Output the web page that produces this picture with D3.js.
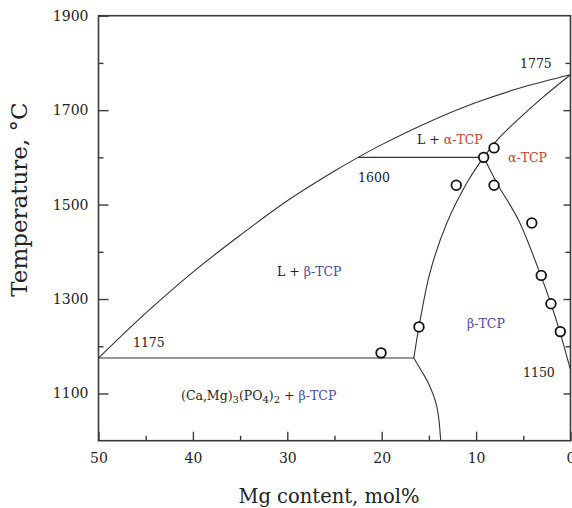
<!DOCTYPE html>
<html>
<head>
<meta charset="utf-8">
<script src="https://cdn.jsdelivr.net/npm/d3@7"></script>
<style>
  html, body { margin: 0; padding: 0; background: #fff; }
  svg { display: block; }
  text { font-family: "DejaVu Serif", "Liberation Serif", serif; fill: #222; }
</style>
</head>
<body>
<svg id="chart" width="572" height="508"></svg>
<script>
// Phase diagram of the Ca3(PO4)2 – Mg3(PO4)2 side (Mg content vs temperature)

// Axis ticks
const xMajorTicks = [50, 40, 30, 20, 10, 0];
const xMinorTicks = [45, 35, 25, 15, 5];
const yMajorTicks = [1100, 1300, 1500, 1700, 1900];
const yMinorTicks = [1200, 1400, 1600, 1800];

// Phase boundaries: [Mg mol%, temperature °C]
const liquidus = [[50, 1175], [45, 1270], [40, 1357], [35, 1435], [30, 1508], [25, 1571],
                  [22.5, 1600], [20, 1627], [15, 1675], [10, 1716], [5, 1749], [0, 1775]];
const alphaSolvus = [[0, 1775], [3, 1726], [6, 1672], [7.8, 1636], [9.2, 1600]];
const betaLeft = [[9.2, 1600], [10.8, 1552], [13.1, 1461], [14.9, 1355], [16.05, 1241], [16.6, 1175]];
const betaLower = [[16.6, 1175], [15.8, 1148], [15.06, 1122], [14.17, 1073], [13.75, 1000]];
const betaRight = [[9.2, 1600], [7.7, 1542], [5.5, 1467], [3.13, 1349], [2.07, 1290],
                   [1.12, 1230], [0, 1150]];
const isotherm1600 = [[22.5, 1600], [9.2, 1600]];
const isotherm1175 = [[50, 1175], [16.6, 1175]];

// Measured compositions
const samples = [[9.2, 1600], [8.1, 1620], [12.1, 1541], [8.1, 1541], [4.1, 1461],
                 [3.1, 1350], [2.07, 1290], [1.08, 1231], [16.05, 1241], [20.07, 1186]];

const red = "#c4402f";
const blue = "#4747a3";

// Isotherm values written on the diagram, anchored at [Mg, T]
const numberLabels = [
  { pos: [5.35, 1789], text: "1775" },
  { pos: [22.5, 1548], text: "1600" },
  { pos: [46.35, 1198], text: "1175" },
  { pos: [5.03, 1135], text: "1150" }
];

const width = 572, height = 508;
const margin = { top: 15.7, right: 1.5, bottom: 67.3, left: 98.5 };

const svg = d3.select("#chart");

const x = d3.scaleLinear().domain([50, 0]).range([margin.left, width - margin.right]);
const y = d3.scaleLinear().domain([1000, 1900]).range([height - margin.bottom, margin.top]);

const axisColor = "#3a3a3a";
const tickFont = "14px";

// Plot frame
svg.append("rect")
  .attr("x", x(50)).attr("y", y(1900))
  .attr("width", x(0) - x(50)).attr("height", y(1000) - y(1900))
  .attr("fill", "none").attr("stroke", axisColor).attr("stroke-width", 1.6);

function styleAxis(g) {
  g.select(".domain").remove();
  g.selectAll(".tick line").attr("stroke", axisColor).attr("stroke-width", 1.4);
  g.selectAll(".tick text").style("font-size", tickFont).attr("fill", "#333");
}

// Bottom axis (ticks pointing inward)
svg.append("g")
  .attr("transform", `translate(0,${y(1000)})`)
  .call(d3.axisBottom(x).tickValues(xMajorTicks).tickFormat(d3.format("d")).tickSize(-9).tickPadding(12))
  .call(styleAxis);
svg.append("g")
  .attr("transform", `translate(0,${y(1000)})`)
  .call(d3.axisBottom(x).tickValues(xMinorTicks).tickFormat("").tickSize(-5))
  .call(styleAxis);

// Left axis
svg.append("g")
  .attr("transform", `translate(${x(50)},0)`)
  .call(d3.axisLeft(y).tickValues(yMajorTicks).tickFormat(d3.format("d")).tickSize(-10).tickPadding(10))
  .call(styleAxis);
svg.append("g")
  .attr("transform", `translate(${x(50)},0)`)
  .call(d3.axisLeft(y).tickValues(yMinorTicks).tickFormat("").tickSize(-5))
  .call(styleAxis);

// Right axis (unlabelled)
svg.append("g")
  .attr("transform", `translate(${x(0)},0)`)
  .call(d3.axisRight(y).tickValues(yMajorTicks.filter(d => d < 1900)).tickFormat("").tickSize(-7))
  .call(styleAxis);
svg.append("g")
  .attr("transform", `translate(${x(0)},0)`)
  .call(d3.axisRight(y).tickValues(yMinorTicks).tickFormat("").tickSize(-5))
  .call(styleAxis);

// Axis titles
svg.append("text")
  .attr("x", 329).attr("y", 503)
  .attr("text-anchor", "middle")
  .style("font-size", "19.5px")
  .text("Mg content, mol%");

svg.append("text")
  .attr("transform", "translate(27,199.5) rotate(-90)")
  .attr("text-anchor", "middle")
  .style("font-size", "23px")
  .text("Temperature, °C");

// Phase boundaries
const smooth = d3.line().x(d => x(d[0])).y(d => y(d[1])).curve(d3.curveCatmullRom.alpha(0.5));
const straight = d3.line().x(d => x(d[0])).y(d => y(d[1]));

const lines = svg.append("g")
  .attr("fill", "none").attr("stroke", "#333").attr("stroke-width", 1.1);
[liquidus, alphaSolvus, betaLeft, betaLower, betaRight].forEach(c =>
  lines.append("path").attr("d", smooth(c)));
[isotherm1600, isotherm1175].forEach(c =>
  lines.append("path").attr("d", straight(c)));

// Sample points
svg.append("g").selectAll("circle")
  .data(samples).join("circle")
  .attr("cx", d => x(d[0])).attr("cy", d => y(d[1]))
  .attr("r", 4.8)
  .attr("fill", "#fff").attr("stroke", "#111").attr("stroke-width", 1.8);

// Temperature annotations
const labelSize = "12.5px";
svg.append("g").selectAll("text")
  .data(numberLabels).join("text")
  .attr("x", d => x(d.pos[0])).attr("y", d => y(d.pos[1]))
  .style("font-size", labelSize)
  .text(d => d.text);

// Phase field labels
function phaseLabel(pos, parts) {
  const t = svg.append("text")
    .attr("x", x(pos[0])).attr("y", y(pos[1]))
    .style("font-size", labelSize);
  parts.forEach(p => {
    const s = t.append("tspan").text(p.text);
    if (p.color) s.attr("fill", p.color);
    if (p.sub) s.style("font-size", "10px");
    if (p.dy) s.attr("dy", p.dy);
  });
  return t;
}

phaseLabel([16.26, 1628], [{ text: "L + " }, { text: "α-TCP", color: red }]);
phaseLabel([6.62, 1590], [{ text: "α-TCP", color: red }]);
phaseLabel([31.09, 1349], [{ text: "L + " }, { text: "β-TCP", color: blue }]);
phaseLabel([10.96, 1239], [{ text: "β-TCP", color: blue }]);
phaseLabel([41.26, 1086], [
  { text: "(Ca,Mg)" },
  { text: "3", sub: true, dy: 3 },
  { text: "(PO", dy: -3 },
  { text: "4", sub: true, dy: 3 },
  { text: ")", dy: -3 },
  { text: "2", sub: true, dy: 3 },
  { text: " + ", dy: -3 },
  { text: "β-TCP", color: blue }
]);
</script>
</body>
</html>
